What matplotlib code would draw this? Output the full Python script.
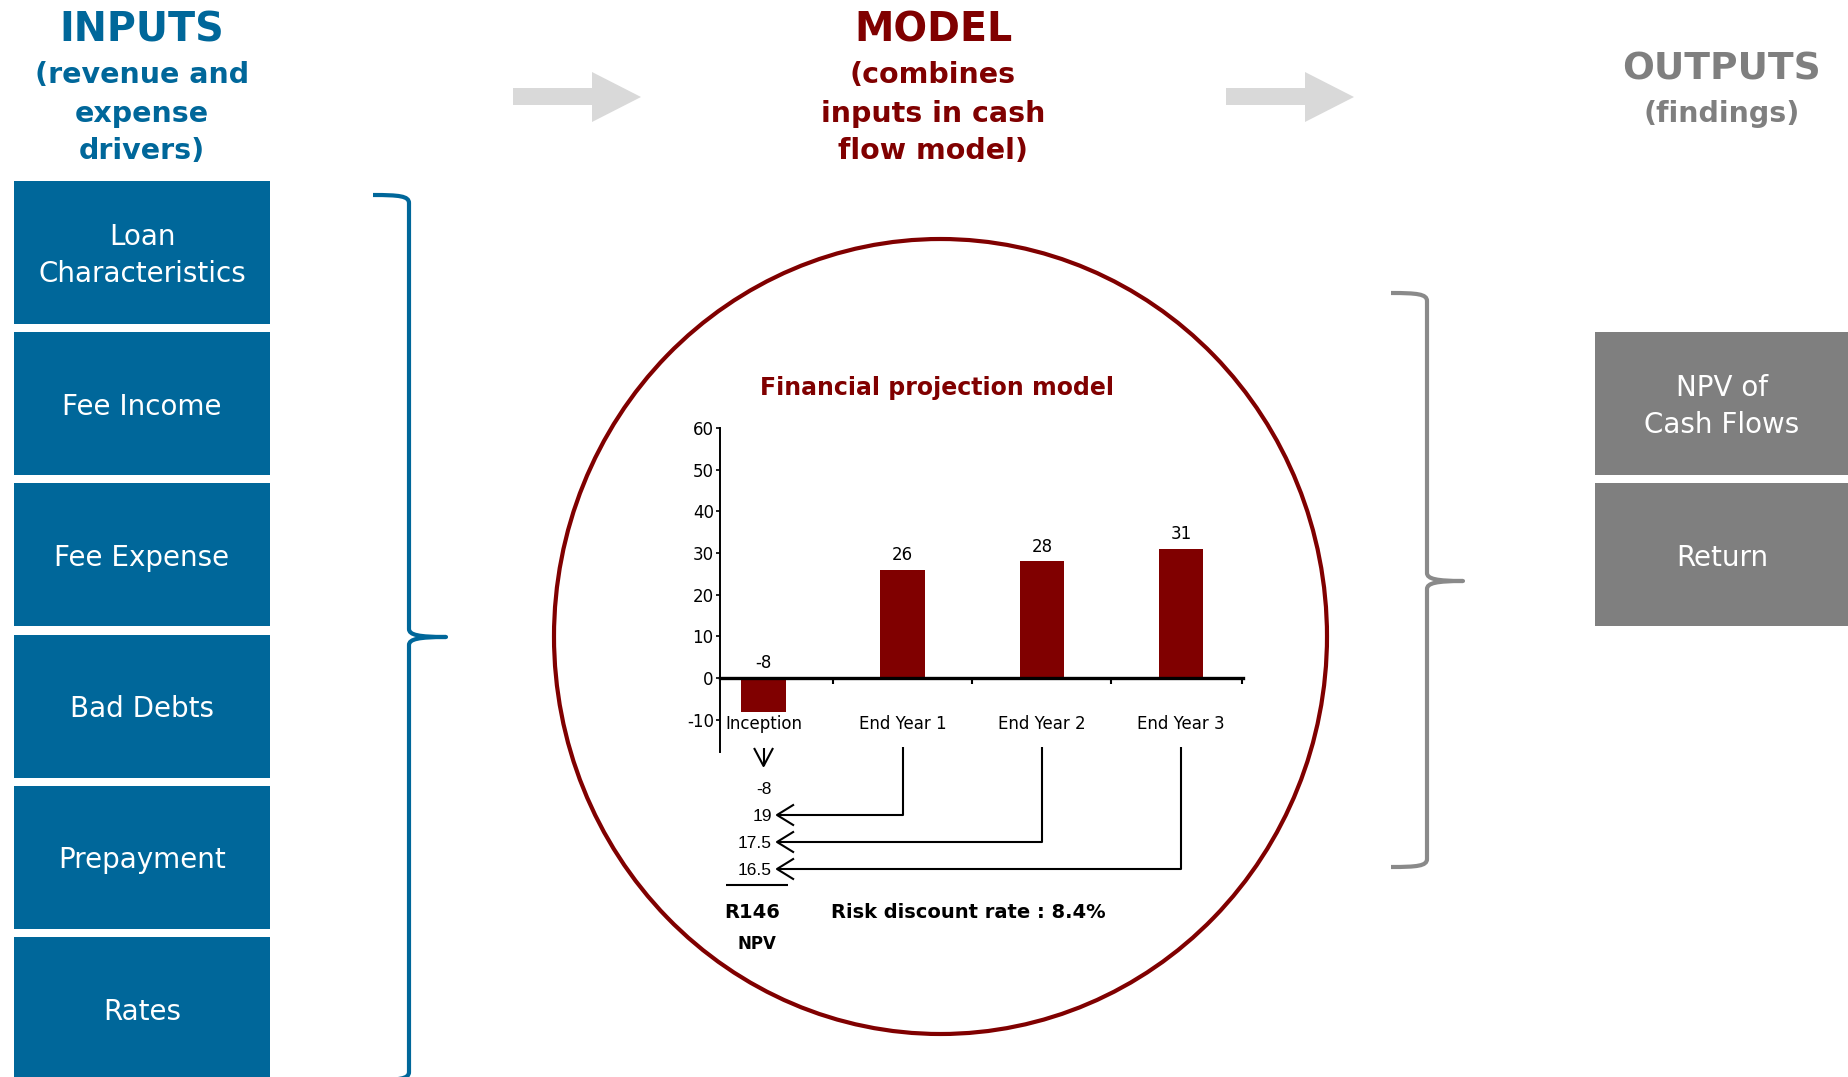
import matplotlib
matplotlib.use("Agg")
import matplotlib.pyplot as plt
from matplotlib.patches import Rectangle, Ellipse, Polygon, PathPatch
from matplotlib.path import Path

# ---- data -------------------------------------------------------------
input_drivers = ["Loan\nCharacteristics", "Fee Income", "Fee Expense",
                 "Bad Debts", "Prepayment", "Rates"]
output_findings = ["NPV of\nCash Flows", "Return"]
periods = ["Inception", "End Year 1", "End Year 2", "End Year 3"]
cash_flows = [-8, 26, 28, 31]
discounted_flows = [-8, 19, 17.5, 16.5]
npv_text = "R146"
discount_rate = 8.4
y_ticks = [-10, 0, 10, 20, 30, 40, 50, 60]

# ---- styling ----------------------------------------------------------
W, H = 1849, 1077
BLUE = "#00679A"
MAROON = "#800000"
GREY = "#7F7F7F"
BRACE_GREY = "#8A8A8A"
ARROW_GREY = "#D9D9D9"
SANS = "DejaVu Sans"

plt.rcParams["font.family"] = [SANS]

fig = plt.figure(figsize=(W / 100, H / 100), dpi=100)
canvas = fig.add_axes([0, 0, 1, 1])
canvas.set_xlim(0, W)
canvas.set_ylim(H, 0)
canvas.axis("off")

# ---- column headings --------------------------------------------------
def heading(x, title, sub_lines, color, title_y, sub_ys, title_size=28):
    canvas.text(x, title_y, title, ha="center", va="center", color=color,
                fontsize=title_size, fontweight="bold")
    for line, y in zip(sub_lines, sub_ys):
        canvas.text(x, y, line, ha="center", va="center", color=color,
                    fontsize=20.5, fontweight="bold")

heading(142, "INPUTS", ["(revenue and", "expense", "drivers)"], BLUE,
        30, [74.5, 113.5, 151.5], title_size=28.5)
heading(933, "MODEL", ["(combines", "inputs in cash", "flow model)"], MAROON,
        30, [74.5, 113.5, 151.5], title_size=28.5)
heading(1722, "OUTPUTS", ["(findings)"], GREY, 70, [113.5], title_size=27)

# ---- flow arrows between headings ------------------------------------
for dx in (0, 713):
    pts = [(513, 88), (592, 88), (592, 72), (641, 97), (592, 122),
           (592, 105), (513, 105)]
    canvas.add_patch(Polygon([(x + dx, y) for x, y in pts], closed=True,
                             facecolor=ARROW_GREY, edgecolor="none"))

# ---- input boxes ------------------------------------------------------
box_top0, box_pitch, box_h = 181, 151.2, 143
for i, name in enumerate(input_drivers):
    top = box_top0 + i * box_pitch
    canvas.add_patch(Rectangle((14, top), 256, box_h, facecolor=BLUE,
                               edgecolor="none"))
    canvas.text(142, top + box_h / 2 + 3, name, ha="center", va="center",
                color="white", fontsize=20, linespacing=1.42)

# ---- output boxes -----------------------------------------------------
for i, name in enumerate(output_findings):
    top = box_top0 + (i + 1) * box_pitch
    canvas.add_patch(Rectangle((1595, top), W - 1595, box_h, facecolor=GREY,
                               edgecolor="none"))
    canvas.text(1722, top + box_h / 2 + 3, name, ha="center", va="center",
                color="white", fontsize=20, linespacing=1.42)

# ---- curly braces -----------------------------------------------------
def brace(x_stub, x_line, x_tip, y_top, y_mid, y_bot, color):
    r = 8
    verts = [
        (x_stub, y_top),
        (x_line - 10, y_top), (x_line, y_top + 1), (x_line, y_top + r),
        (x_line, y_mid - r),
        (x_line, y_mid - 2), (x_line + 10, y_mid), (x_tip, y_mid),
        (x_line + 10, y_mid), (x_line, y_mid + 2), (x_line, y_mid + r),
        (x_line, y_bot - r),
        (x_line, y_bot - 1), (x_line - 10, y_bot), (x_stub, y_bot),
    ]
    codes = [Path.MOVETO,
             Path.CURVE4, Path.CURVE4, Path.CURVE4,
             Path.LINETO,
             Path.CURVE4, Path.CURVE4, Path.CURVE4,
             Path.CURVE4, Path.CURVE4, Path.CURVE4,
             Path.LINETO,
             Path.CURVE4, Path.CURVE4, Path.CURVE4]
    canvas.add_patch(PathPatch(Path(verts, codes), facecolor="none",
                               edgecolor=color, lw=3.0, capstyle="butt",
                               joinstyle="round"))

brace(373, 409, 446, 195, 637, 1080, BLUE)
brace(1391, 1427, 1463, 293, 581, 867, BRACE_GREY)

# ---- model circle -----------------------------------------------------
canvas.add_patch(Ellipse((940.5, 636.5), 773, 795, facecolor="none",
                         edgecolor=MAROON, lw=3.0))
canvas.text(937, 388, "Financial projection model", ha="center",
            va="center", color=MAROON, fontsize=17, fontweight="bold")

# ---- cash flow bar chart ---------------------------------------------
ax_l, ax_r, ax_t, ax_b = 720, 1243, 428, 752
ax = fig.add_axes([ax_l / W, (H - ax_b) / H, (ax_r - ax_l) / W,
                   (ax_b - ax_t) / H])
ax.set_facecolor("none")
x = list(range(len(periods)))
ax.bar(x, cash_flows, width=0.32, color=MAROON, zorder=2)
ax.set_xlim(-0.313, 3.446)
ax.set_ylim(-17.7, 60)

for side in ("top", "right"):
    ax.spines[side].set_visible(False)
ax.spines["bottom"].set_position(("data", 0))
ax.spines["bottom"].set_linewidth(2.4)
ax.spines["bottom"].set_zorder(3)
ax.spines["left"].set_linewidth(1.4)

ax.set_yticks(y_ticks)
ax.set_yticklabels([str(t) for t in y_ticks], fontsize=12)
ax.tick_params(axis="y", direction="out", length=3, width=1.2, pad=1.5)
ax.set_xticks([0.5, 1.5, 2.5, 3.44])
ax.set_xticklabels([])
ax.tick_params(axis="x", direction="out", length=4, width=1.5)

for xi, v in zip(x, cash_flows):
    ax.annotate(f"{v:g}", (xi, max(v, 0)), xytext=(0, 7),
                textcoords="offset points", ha="center", va="baseline",
                fontsize=12)
for xi, name in zip(x, periods):
    ax.text(xi, -11.0, name, ha="center", va="center", fontsize=12)

# ---- discounting schematic -------------------------------------------
cat_px = [ax.transData.transform((xi, 0))[0] for xi in x]
row_y = [788, 815, 842, 869]
tip_x, arm = 777, 17
lk = dict(color="black", lw=1.5, solid_capstyle="butt")

# Inception flow is already at present value: short downward arrow
cx0 = cat_px[0]
canvas.plot([cx0, cx0], [748, 766], **lk)
canvas.plot([cx0 - 9.5, cx0, cx0 + 9.5], [748, 766, 748], **lk)

for i, (v, ry) in enumerate(zip(discounted_flows, row_y)):
    canvas.text(772, ry, f"{v:g}", ha="right", va="center_baseline",
                fontsize=12.5, family="Liberation Sans")
    if i == 0:
        continue
    canvas.plot([tip_x, cat_px[i], cat_px[i]], [ry, ry, 747], **lk)
    canvas.plot([tip_x + arm, tip_x, tip_x + arm], [ry - 10.5, ry, ry + 10.5],
                **lk)

canvas.plot([726, 788], [885, 885], **lk)
canvas.text(752, 910, npv_text, ha="center", va="center_baseline",
            fontsize=14, fontweight="bold")
canvas.text(757, 942, "NPV", ha="center", va="center_baseline",
            fontsize=12, fontweight="bold")
canvas.text(831, 911, f"Risk discount rate : {discount_rate:g}%", ha="left",
            va="center_baseline", fontsize=14, fontweight="bold")

fig.savefig("out.png", dpi=100)
